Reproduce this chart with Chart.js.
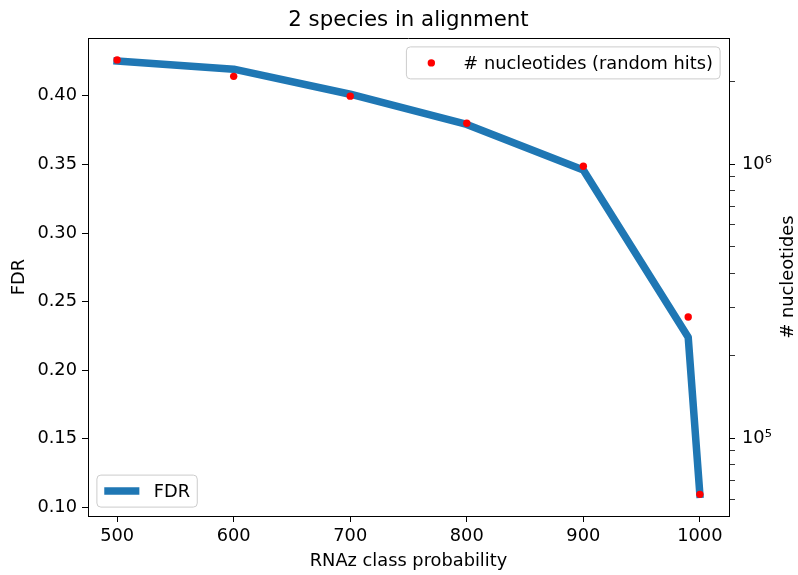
<!DOCTYPE html>
<html>
<head>
<meta charset="utf-8">
<script src="https://cdn.jsdelivr.net/npm/chart.js@4/dist/chart.umd.min.js"></script>
<style>
    body { margin: 0; background: #fff; }
    canvas { display: block; }
</style>
</head>
<body>
<canvas id="fdrChart" width="798" height="575"></canvas>
<script>
var probabilities = [500, 600, 700, 800, 900, 990, 1000];
var fdrValues = [0.4255, 0.4195, 0.4012, 0.3792, 0.3460, 0.2240, 0.1095];
var randomHits = [2400000, 2090000, 1770000, 1410000, 983000, 277000, 62500];

var xTicks = [500, 600, 700, 800, 900, 1000];
var fdrTicks = [0.10, 0.15, 0.20, 0.25, 0.30, 0.35, 0.40];
var hitTicks = [60000, 70000, 80000, 90000, 100000, 200000, 300000, 400000, 500000,
    600000, 700000, 800000, 900000, 1000000, 2000000];
var hitLabels = { 100000: "10\u2075", 1000000: "10\u2076" };

var FONT = "'DejaVu Sans', sans-serif";
var FS = 17.8;

function roundBox(ctx, x, y, w, h, r) {
    ctx.beginPath();
    ctx.moveTo(x + r, y);
    ctx.arcTo(x + w, y, x + w, y + h, r);
    ctx.arcTo(x + w, y + h, x, y + h, r);
    ctx.arcTo(x, y + h, x, y, r);
    ctx.arcTo(x, y, x + w, y, r);
    ctx.closePath();
    ctx.fillStyle = "rgba(255,255,255,0.8)";
    ctx.fill();
    ctx.strokeStyle = "#cccccc";
    ctx.lineWidth = 1;
    ctx.stroke();
}

// title, top spine, right axis label and the two matplotlib-like legends
var extras = {
    id: "extras",
    afterDraw: function (chart) {
        var ctx = chart.ctx, a = chart.chartArea;
        var pad = 0.4 * FS, handle = 2 * FS, gap = 0.8 * FS, axpad = 0.5 * FS, h = 32;
        ctx.save();

        ctx.strokeStyle = "#000";
        ctx.lineWidth = 1;
        ctx.beginPath();
        ctx.moveTo(a.left, Math.round(a.top) + 0.5);
        ctx.lineTo(a.right, Math.round(a.top) + 0.5);
        ctx.stroke();

        ctx.fillStyle = "#000";
        ctx.textAlign = "center";
        ctx.textBaseline = "middle";
        ctx.font = "21.3px " + FONT;
        ctx.fillText("2 species in alignment", (a.left + a.right) / 2, 20);

        ctx.font = FS + "px " + FONT;
        ctx.save();
        ctx.translate(788, (a.top + a.bottom) / 2);
        ctx.rotate(-Math.PI / 2);
        ctx.fillText("# nucleotides", 0, 0);
        ctx.restore();

        ctx.textAlign = "left";
        var hitText = "# nucleotides (random hits)";
        var w1 = pad + handle + gap + ctx.measureText(hitText).width + pad;
        var x1 = a.right - axpad - w1, y1 = a.top + axpad;
        roundBox(ctx, x1, y1, w1, h, 4);
        ctx.fillStyle = "#ff0000";
        ctx.beginPath();
        ctx.arc(x1 + pad + handle / 2, y1 + h / 2, 3.7, 0, Math.PI * 2);
        ctx.fill();
        ctx.fillStyle = "#000";
        ctx.fillText(hitText, x1 + pad + handle + gap, y1 + h / 2 + 1);

        var fdrText = "FDR";
        var w2 = pad + handle + gap + ctx.measureText(fdrText).width + pad;
        var x2 = a.left + axpad, y2 = a.bottom - axpad - h;
        roundBox(ctx, x2, y2, w2, h, 4);
        ctx.strokeStyle = "#1f77b4";
        ctx.lineWidth = 7.5;
        ctx.lineCap = "square";
        ctx.beginPath();
        ctx.moveTo(x2 + pad + 4, y2 + h / 2);
        ctx.lineTo(x2 + pad + handle - 4, y2 + h / 2);
        ctx.stroke();
        ctx.fillStyle = "#000";
        ctx.fillText(fdrText, x2 + pad + handle + gap, y2 + h / 2 + 1);

        ctx.restore();
    }
};

function fixedTicks(list) {
    return function (scale) {
        scale.ticks = list.map(function (v) { return { value: v }; });
    };
}

var tickFont = { family: FONT, size: FS };

var ctx = document.getElementById("fdrChart").getContext("2d");
new Chart(ctx, {
    type: "line",
    data: {
        labels: probabilities,
        datasets: [{
            label: "# nucleotides (random hits)",
            data: probabilities.map(function (p, i) { return { x: p, y: randomHits[i] }; }),
            yAxisID: "y1",
            showLine: false,
            pointRadius: 3.7,
            pointBackgroundColor: "#ff0000",
            pointBorderWidth: 0,
            order: 0
        }, {
            label: "FDR",
            data: probabilities.map(function (p, i) { return { x: p, y: fdrValues[i] }; }),
            yAxisID: "y",
            borderColor: "#1f77b4",
            borderWidth: 7.5,
            borderJoinStyle: "round",
            borderCapStyle: "square",
            pointRadius: 0,
            tension: 0,
            fill: false,
            order: 1
        }]
    },
    options: {
        responsive: false,
        animation: false,
        layout: { padding: { top: 38, left: 0, right: 0, bottom: 0 } },
        plugins: {
            legend: { display: false },
            tooltip: { enabled: false }
        },
        scales: {
            x: {
                type: "linear",
                min: 475,
                max: 1025,
                afterBuildTicks: fixedTicks(xTicks),
                afterFit: function (scale) { scale.height = 59; },
                grid: { drawOnChartArea: false, tickLength: 6, color: "#000" },
                border: { color: "#000", width: 1 },
                ticks: {
                    color: "#000",
                    font: tickFont,
                    padding: 4,
                    maxRotation: 0,
                    autoSkip: false,
                    callback: function (v) { return String(v); }
                },
                title: {
                    display: true,
                    text: "RNAz class probability",
                    color: "#000",
                    font: tickFont,
                    padding: { top: 0, bottom: 3 }
                }
            },
            y: {
                position: "left",
                min: 0.0937,
                max: 0.4422,
                afterBuildTicks: fixedTicks(fdrTicks),
                afterFit: function (scale) { scale.width = 88; },
                grid: { drawOnChartArea: false, tickLength: 6, color: "#000" },
                border: { color: "#000", width: 1 },
                ticks: {
                    color: "#000",
                    font: tickFont,
                    padding: 5,
                    autoSkip: false,
                    callback: function (v) { return v.toFixed(2); }
                },
                title: {
                    display: true,
                    text: "FDR",
                    color: "#000",
                    font: tickFont,
                    padding: { top: 9, bottom: 0 }
                }
            },
            y1: {
                type: "logarithmic",
                position: "right",
                min: 52100,
                max: 2884000,
                afterBuildTicks: fixedTicks(hitTicks),
                afterFit: function (scale) { scale.width = 69; },
                grid: {
                    drawOnChartArea: false,
                    tickLength: 6,
                    color: "#000",
                    tickWidth: function (c) { return hitLabels[c.tick && c.tick.value] ? 1 : 0.8; }
                },
                border: { color: "#000", width: 1 },
                ticks: {
                    color: "#000",
                    font: tickFont,
                    padding: 7,
                    autoSkip: false,
                    callback: function (v) { return hitLabels[v] || ""; }
                }
            }
        }
    },
    plugins: [extras]
});
</script>
</body>
</html>
